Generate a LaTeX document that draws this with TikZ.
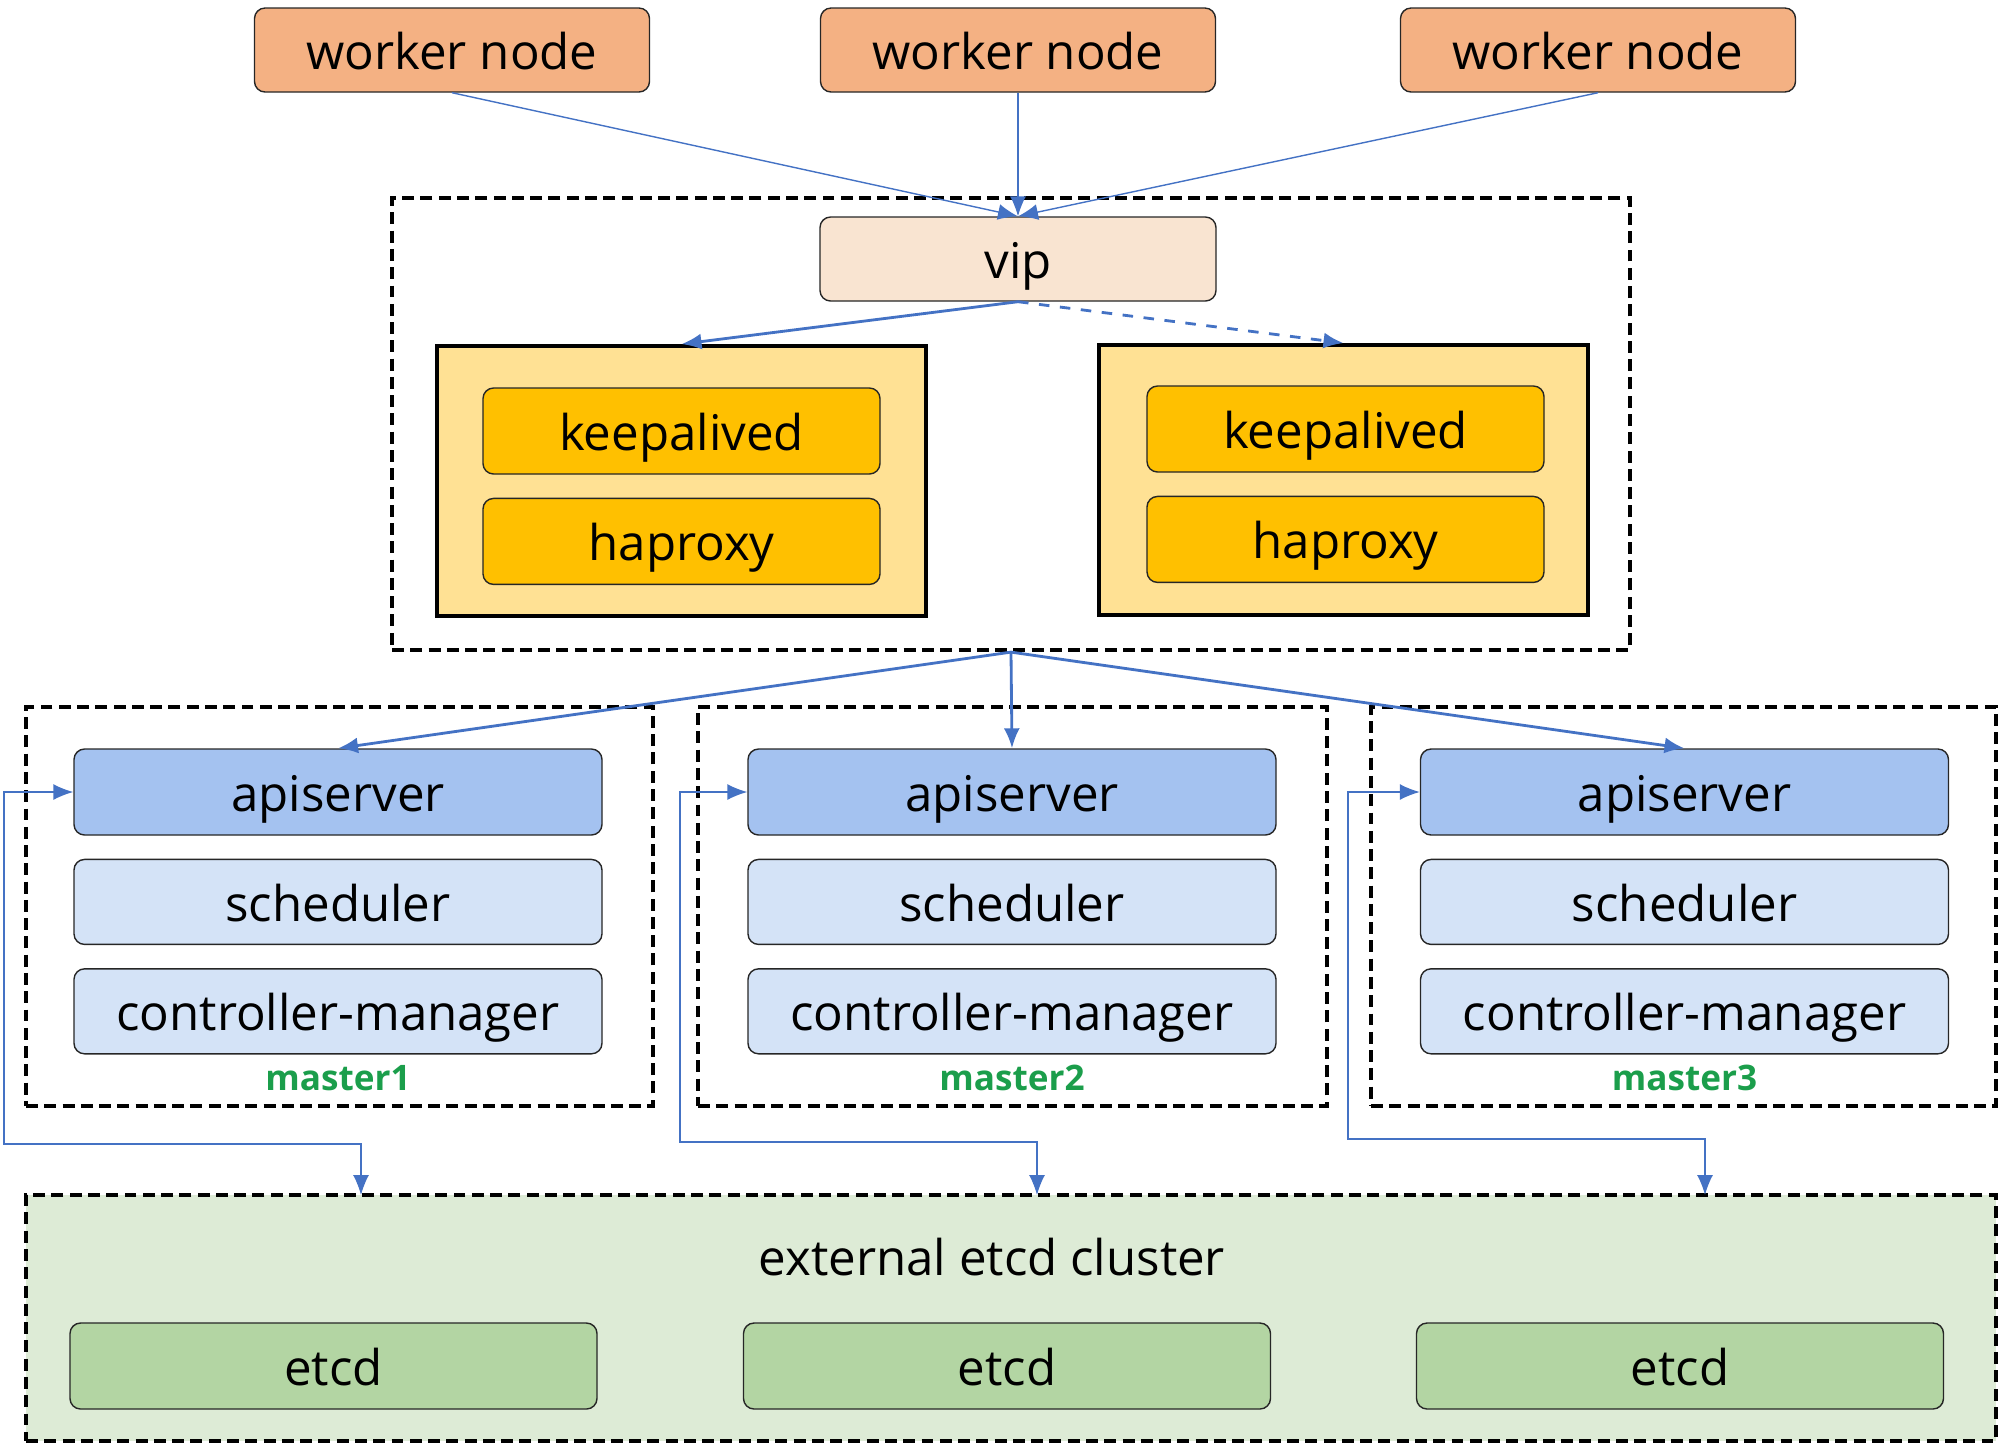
\documentclass[tikz,border=0pt]{standalone}
\usepackage{fontspec}
\setmainfont{Open Sans}
\usepackage{tikz}
\usetikzlibrary{
	arrows.meta,
	positioning,
	calc
}
\definecolor{workerfill}{HTML}{F4B183}
\definecolor{vipfill}{HTML}{F9E4D1}
\definecolor{lbfill}{HTML}{FFE194}
\definecolor{lbpartfill}{HTML}{FFC000}
\definecolor{apifill}{HTML}{A4C2F0}
\definecolor{compfill}{HTML}{D4E3F7}
\definecolor{etcdfill}{HTML}{B3D5A3}
\definecolor{clusterfill}{HTML}{DDEBD6}
\definecolor{mastergreen}{HTML}{1B9E4B}
\definecolor{linkblue}{HTML}{4472C4}

\begin{document}
\begin{tikzpicture}[
    node distance=2.3mm and 7mm,
    box/.style={rectangle, rounded corners=3pt, draw=black!85, thin, align=center, inner sep=0pt, text height=11pt, text depth=0pt, font=\fontsize{14}{16}\selectfont},
    worker/.style={box, fill=workerfill, minimum width=3.95cm, minimum height=8.4mm},
    vipbox/.style={box, fill=vipfill, minimum width=3.96cm, minimum height=8.4mm},
    lbgroup/.style={rectangle, draw=black, line width=1.1pt, fill=lbfill, minimum width=4.89cm, minimum height=2.7cm},
    lbpart/.style={box, fill=lbpartfill, minimum width=3.97cm, minimum height=8.6mm},
    api/.style={box, fill=apifill, minimum width=5.28cm, minimum height=8.6mm},
    comp/.style={box, fill=compfill, minimum width=5.28cm, minimum height=8.5mm},
    etcdbox/.style={box, fill=etcdfill, minimum width=5.27cm, minimum height=8.6mm},
    group/.style={rectangle, draw=black, line width=1.2pt, dash pattern=on 3.4pt off 1.8pt},
    tag/.style={inner sep=0pt, text=mastergreen, font=\bfseries\fontsize{10}{12}\selectfont},
    thinlink/.style={-{Latex[length=2mm, width=1.6mm]}, linkblue, line width=0.4pt},
    link/.style={-{Latex[length=2mm, width=1.6mm]}, linkblue, line width=0.8pt},
    sync/.style={{Latex[length=2mm, width=1.6mm]}-{Latex[length=2mm, width=1.6mm]}, linkblue, line width=0.4pt}
]
\useasboundingbox (0,0) rectangle (20,-14.45);

\node[worker] (w1) at (4.52,-0.50) {worker node};
\node[worker] (w2) at (10.18,-0.50) {worker node};
\node[worker] (w3) at (15.98,-0.50) {worker node};

\node[group, minimum width=12.38cm, minimum height=4.52cm] (lb) at (10.11,-4.24) {};
\node[vipbox] (vip) at (10.18,-2.59) {vip};
\node[lbgroup] (lbl) at (6.815,-4.81) {};
\node[lbgroup] (lbr) at (13.435,-4.80) {};
\node[lbpart] (kal) at (6.815,-4.31) {keepalived};
\node[lbpart, below=of kal] (hal) {haproxy};
\node[lbpart] (kar) at (13.455,-4.29) {keepalived};
\node[lbpart, below=of kar] (har) {haproxy};

\node[group, minimum width=6.27cm, minimum height=3.99cm] (m1) at (3.395,-9.065) {};
\node[api] (api1) at (3.38,-7.92) {apiserver};
\node[comp, below=of api1] (sch1) {scheduler};
\node[comp, below=of sch1] (cm1) {controller-manager};
\node[tag, below=1mm of cm1] (t1) {master1};

\node[group, minimum width=6.29cm, minimum height=3.99cm] (m2) at (10.125,-9.065) {};
\node[api] (api2) at (10.12,-7.92) {apiserver};
\node[comp, below=of api2] (sch2) {scheduler};
\node[comp, below=of sch2] (cm2) {controller-manager};
\node[tag, below=1mm of cm2] (t2) {master2};

\node[group, minimum width=6.25cm, minimum height=3.99cm] (m3) at (16.835,-9.065) {};
\node[api] (api3) at (16.845,-7.92) {apiserver};
\node[comp, below=of api3] (sch3) {scheduler};
\node[comp, below=of sch3] (cm3) {controller-manager};
\node[tag, below=1mm of cm3] (t3) {master3};

\node[group, fill=clusterfill, minimum width=19.70cm, minimum height=2.46cm] (cluster) at (10.11,-13.18) {};
\node[font=\fontsize{14}{16}\selectfont] (cltitle) at (9.92,-12.57) {external etcd cluster};
\node[etcdbox] (etcd1) at (3.335,-13.66) {etcd};
\node[etcdbox] (etcd2) at (10.07,-13.66) {etcd};
\node[etcdbox] (etcd3) at (16.80,-13.66) {etcd};

\draw[thinlink] (w1.south) -- (vip.north);
\draw[thinlink] (w2.south) -- (vip.north);
\draw[thinlink] (w3.south) -- (vip.north);
\draw[link] (vip.south) -- (lbl.north);
\draw[link, dashed] (vip.south) -- (lbr.north);
\draw[link] (lb.south) -- (api1.north);
\draw[link] (lb.south) -- (api2.north);
\draw[link] (lb.south) -- (api3.north);

\coordinate (b1) at (0.04,-11.44);
\coordinate (e1) at (3.61,-11.95);
\coordinate (b2) at (6.80,-11.42);
\coordinate (e2) at (10.37,-11.95);
\coordinate (b3) at (13.48,-11.39);
\coordinate (e3) at (17.05,-11.95);
\draw[sync] (api1.west) -| (b1) -| (e1);
\draw[sync] (api2.west) -| (b2) -| (e2);
\draw[sync] (api3.west) -| (b3) -| (e3);
\end{tikzpicture}
\end{document}
